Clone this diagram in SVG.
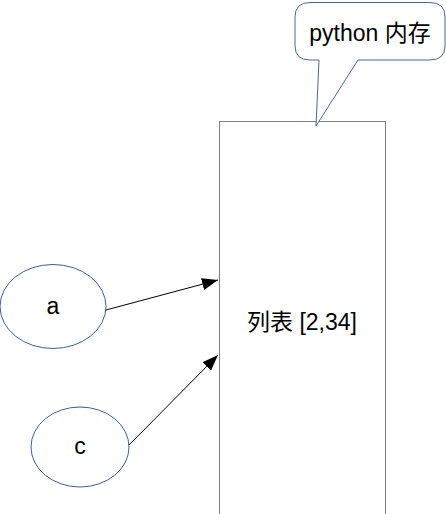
<svg xmlns="http://www.w3.org/2000/svg" width="446" height="514" viewBox="0 0 446 514">
<style>
.t{font-family:"Liberation Sans","Noto Sans CJK SC",sans-serif;font-size:23px;fill:#000;text-anchor:middle;dominant-baseline:central}
.e{fill:#fff;stroke:#3b5f9a;stroke-width:1}
.c{stroke:#000;stroke-width:1;fill:none}
</style>
<defs>
<marker id="ah2" markerWidth="16" markerHeight="12" refX="16" refY="6" orient="auto" markerUnits="userSpaceOnUse" viewBox="0 0 16 12">
<path d="M0,0 L16,6 L0,12 Z" fill="#000"/>
</marker>
</defs>
<g id="list">
<rect x="219.5" y="121.5" width="166" height="400" fill="#fff" stroke="#808080"/>
<text class="t" x="302" y="322">列表 [2,34]</text>
</g>
<g id="callout">
<path d="M310,2.5 L430,2.5 Q445,2.5 445,17 L445,46 Q445,60 430,60 L358,60 L316,126 L319,60 L310,60 Q295,60 295,46 L295,17 Q295,2.5 310,2.5 Z" fill="#fff" stroke="#4a6795"/>
<text class="t" x="370" y="33">python 内存</text>
</g>
<g id="a">
<ellipse class="e" cx="53" cy="306.5" rx="53" ry="42"/>
<text class="t" x="53" y="306">a</text>
</g>
<g id="c">
<ellipse class="e" cx="80" cy="447" rx="49" ry="40"/>
<text class="t" x="80" y="446">c</text>
</g>
<g id="connectors">
<line class="c" x1="106" y1="310" x2="218" y2="280" marker-end="url(#ah2)"/>
<line class="c" x1="129" y1="445" x2="218" y2="355" marker-end="url(#ah2)"/>
</g>
</svg>
